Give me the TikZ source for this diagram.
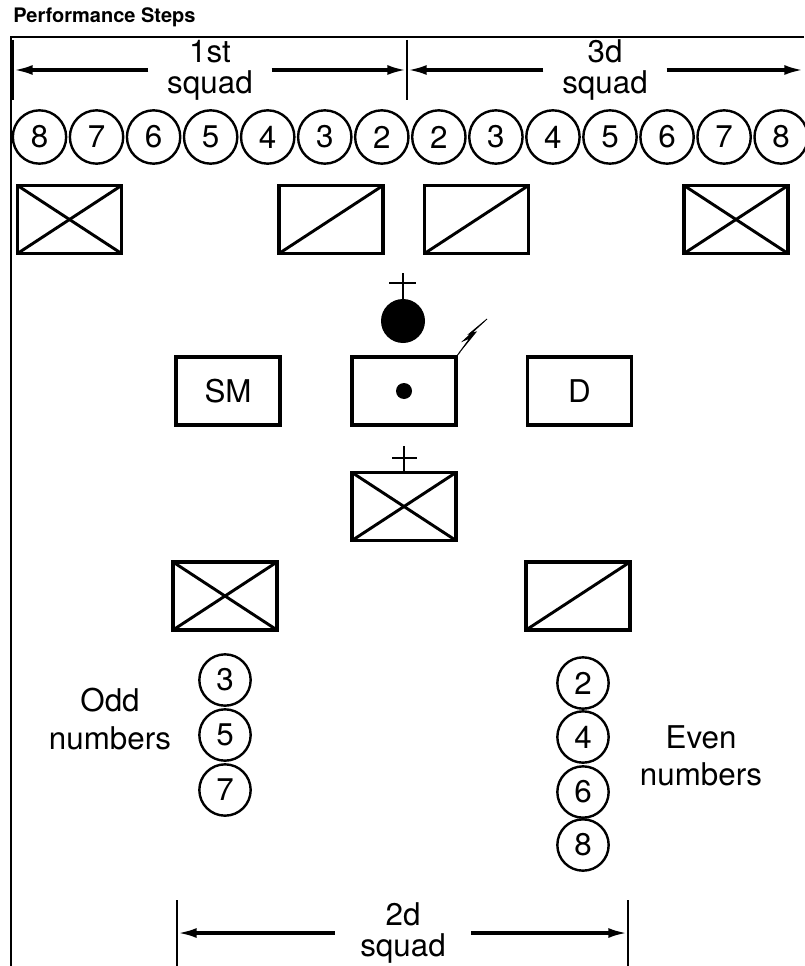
\documentclass[tikz,border=0pt]{standalone}
\usepackage{fontspec}
\setmainfont{TeX Gyre Heros}
\usetikzlibrary{arrows.meta}

\begin{document}
\begin{tikzpicture}[x=0.75pt, y=-0.75pt,
  every node/.style={font=\fontsize{23.5}{23}\selectfont},
  soldier/.style={circle, draw, line width=1.8pt, minimum size=40pt, inner sep=0pt},
  unitbox/.style={draw, line width=2.8pt, minimum width=78pt, minimum height=51pt, inner sep=0pt, outer sep=0pt},
  diagline/.style={line width=2.2pt},
  frameline/.style={line width=1.8pt},
  dimarrow/.style={line width=2.3pt, -{Latex[length=14pt, width=7.5pt]}},
  squadlabel/.style={align=center, inner xsep=14pt, inner ysep=0pt},
  sidelabel/.style={align=center, font=\fontsize{23.5}{28}\selectfont}]

\useasboundingbox (0,0) rectangle (804,966);

% title
\node[anchor=base west, inner sep=0pt, font=\bfseries\fontsize{15}{15}\selectfont] (title) at (13,23) {Performance Steps};

% frame
\draw[frameline] (804,37) -- (11,37) -- (11,966);

% 1st and 3d squad spans
\coordinate (s1l) at (14,70);
\coordinate (s1r) at (406,70);
\coordinate (s3l) at (408,70);
\coordinate (s3r) at (803,70);
\draw[line width=3pt] (12,40) -- (12,100);
\draw[frameline] (407,40) -- (407,100);
\node[squadlabel] (sq1) at (210,70) {1st\\squad};
\node[squadlabel] (sq3) at (605,70) {3d\\squad};
\draw[dimarrow] (sq1.west) -- (s1l);
\draw[dimarrow] (sq1.east) -- (s1r);
\draw[dimarrow] (sq3.west) -- (s3l);
\draw[dimarrow] (sq3.east) -- (s3r);

% front rank
\foreach \n [count=\i from 0] in {8,7,6,5,4,3,2,2,3,4,5,6,7,8}
  \node[soldier] (r\i) at (39.5+57.05*\i,137) {\n};

% vehicles, top row
\node[unitbox] (v1) at (69.5,219.5) {};
\node[unitbox] (v2) at (331,219.5) {};
\node[unitbox] (v3) at (476.5,219.5) {};
\node[unitbox] (v4) at (736,219.5) {};

% leaders
\node[circle, fill, minimum size=33pt, inner sep=0pt] (cmd) at (403,321) {};
\coordinate (cmdtop) at (403,273);
\draw[line width=2.2pt] (cmd.north) -- (cmdtop);
\draw[line width=2.2pt] (389,283) -- (416,283);
\node[unitbox] (sm) at (228,391) {SM};
\node[unitbox] (ldr) at (404,391) {};
\node[unitbox] (dr) at (579.5,391) {D};
\fill (ldr.center) circle[radius=6pt];
\draw[line width=0.7pt] (ldr.north east) -- +(4,-5);
\filldraw[line width=0.6pt] (ldr.north east) ++(3,-4) -- +(11,-15) -- +(4,-12) -- +(28,-34) -- +(10,-19) -- +(17,-21) -- cycle;

% headquarters vehicle
\node[unitbox] (hq) at (404,506.5) {};
\coordinate (hqtop) at (404,446);
\draw[line width=2.2pt] (hq.north) -- (hqtop);
\draw[line width=2.2pt] (392,458) -- (417,458);

% 2d squad vehicles
\node[unitbox] (v5) at (225,596) {};
\node[unitbox] (v6) at (578,596) {};

\foreach \b in {v1,v4,hq,v5}
  \draw[diagline] (\b.north west) -- (\b.south east);
\foreach \b in {v1,v2,v3,v4,hq,v5,v6}
  \draw[diagline] (\b.south west) -- (\b.north east);

% 2d squad files
\foreach \n/\y in {3/680,5/735,7/790}
  \node[soldier, minimum size=38.5pt] (o\n) at (225,\y) {\n};
\foreach \n/\y in {2/683,4/737,6/792,8/845}
  \node[soldier, minimum size=38.5pt] (e\n) at (583,\y) {\n};
\node[sidelabel] (odd) at (110,719) {Odd\\numbers};
\node[sidelabel] (even) at (701,756) {Even\\numbers};

% 2d squad span
\coordinate (s2l) at (178,933);
\coordinate (s2r) at (627,933);
\draw[frameline] (177,900) -- (177,966);
\draw[frameline] (628,900) -- (628,966);
\node[squadlabel, inner xsep=19pt] (sq2) at (403,933) {2d\\squad};
\draw[dimarrow] (sq2.west) -- (s2l);
\draw[dimarrow] (sq2.east) -- (s2r);
\end{tikzpicture}
\end{document}
